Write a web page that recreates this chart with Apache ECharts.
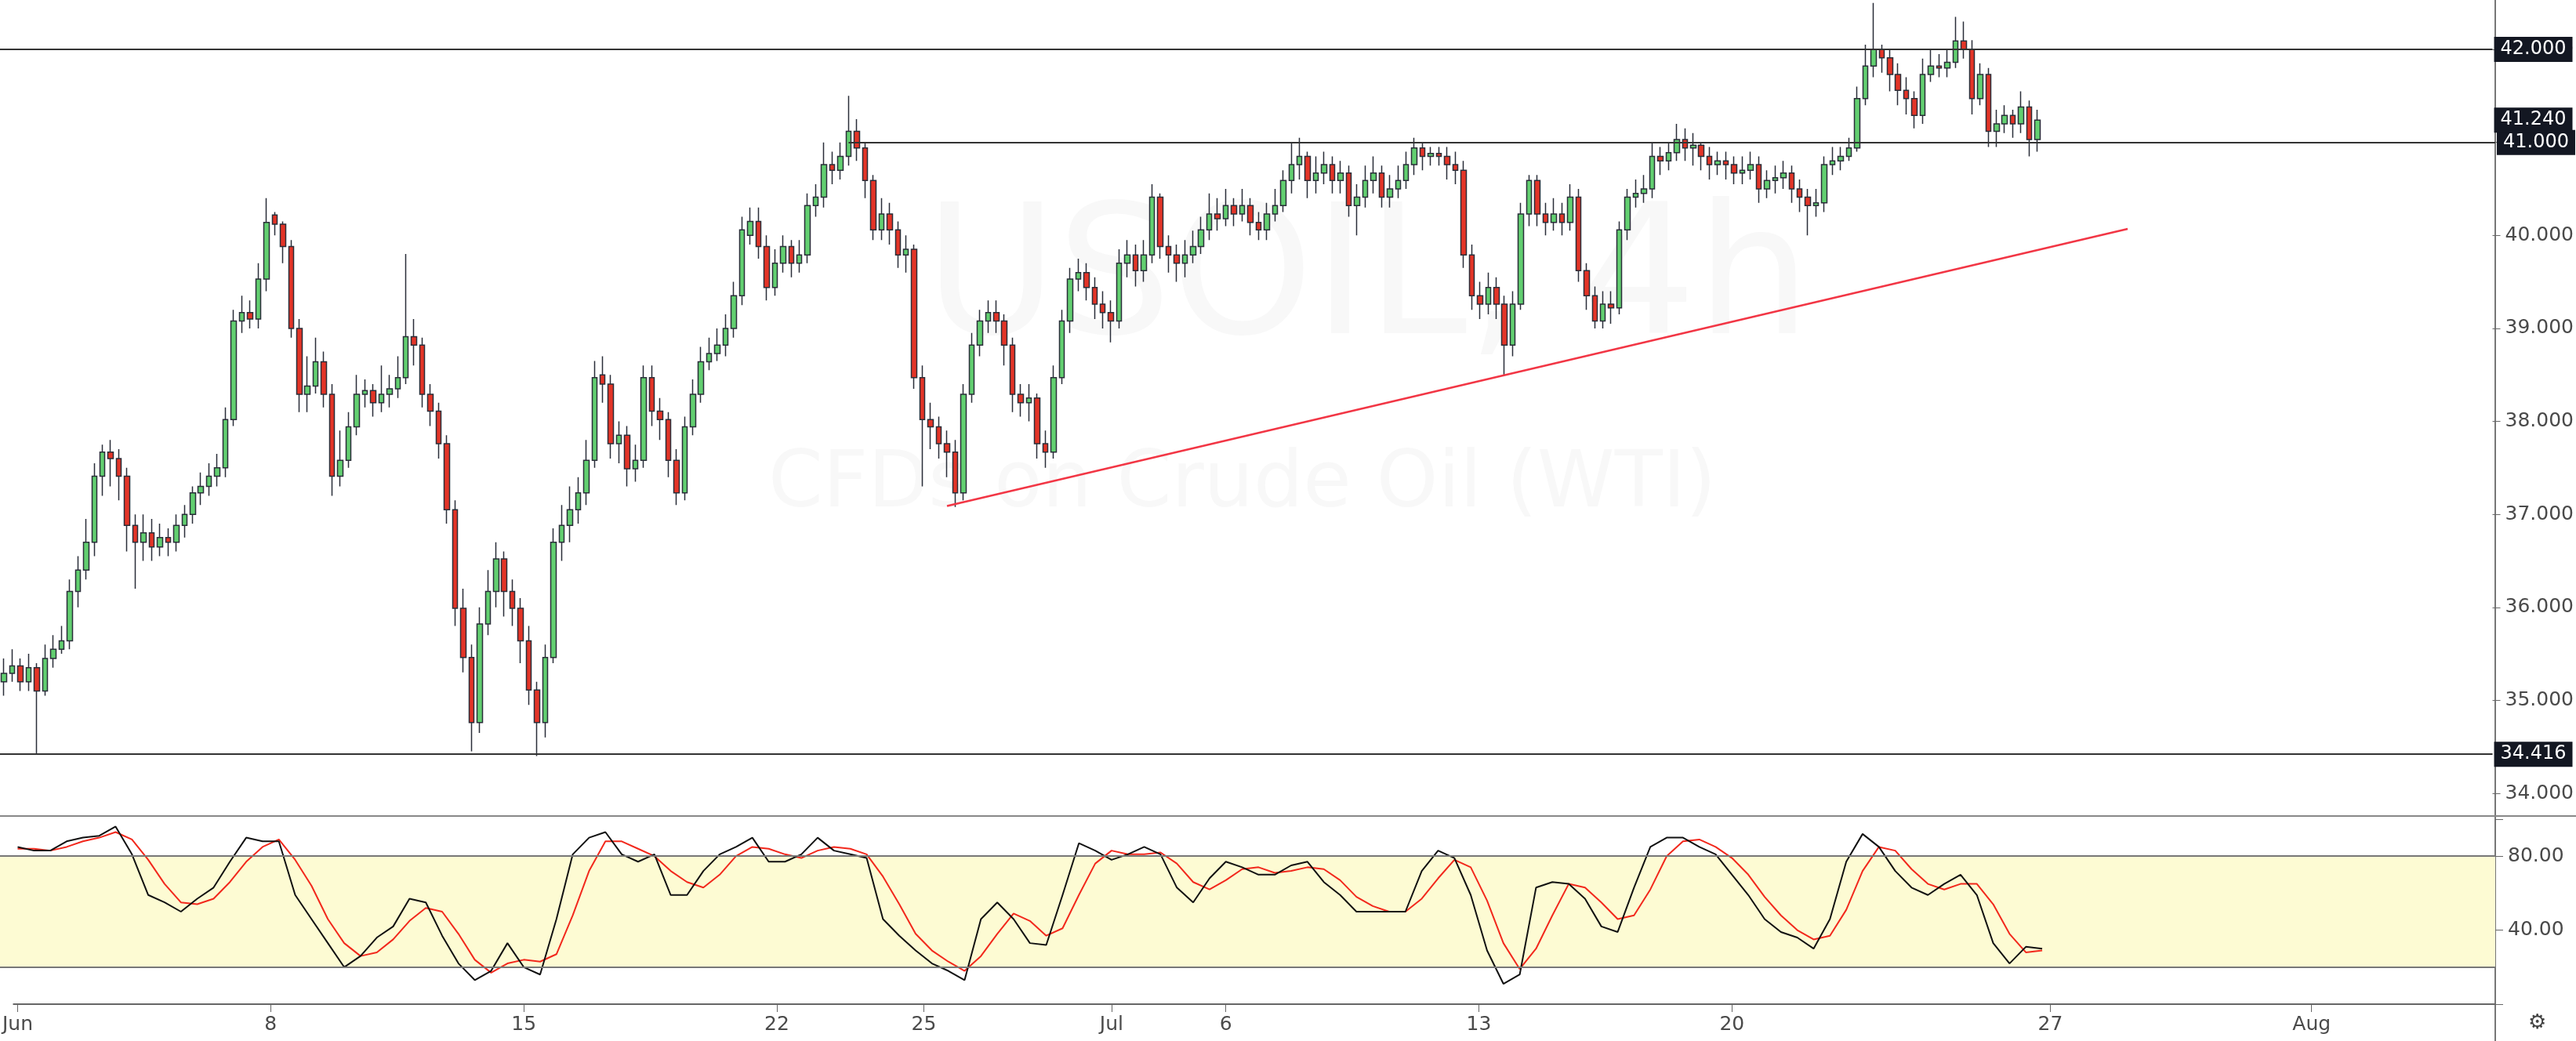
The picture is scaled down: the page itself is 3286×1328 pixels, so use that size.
<!DOCTYPE html>
<html><head><meta charset="utf-8">
<script src="https://cdn.jsdelivr.net/npm/echarts@6/dist/echarts.min.js"></script>
<style>html,body{margin:0;padding:0;background:#fff}#c{width:3286px;height:1328px}</style>
</head><body><div id="c"></div>
<script>
// [open, close, low, high]
const candles = [
[35.20,35.29,35.05,35.45],[35.29,35.37,35.20,35.55],[35.37,35.20,35.10,35.45],[35.20,35.35,35.10,35.50],[35.35,35.10,34.42,35.40],
[35.10,35.45,35.05,35.60],[35.45,35.55,35.35,35.70],[35.55,35.64,35.50,35.80],[35.64,36.17,35.55,36.30],[36.17,36.40,36.00,36.55],
[36.40,36.70,36.30,36.95],[36.70,37.41,36.55,37.55],[37.41,37.67,37.20,37.75],[37.67,37.60,37.30,37.80],[37.60,37.41,37.15,37.70],
[37.41,36.88,36.60,37.50],[36.88,36.70,36.20,37.00],[36.70,36.80,36.50,37.00],[36.80,36.65,36.50,36.95],[36.65,36.75,36.55,36.90],
[36.75,36.70,36.55,36.85],[36.70,36.88,36.60,37.00],[36.88,37.00,36.75,37.10],[37.00,37.23,36.90,37.30],[37.23,37.30,37.10,37.45],
[37.30,37.41,37.20,37.55],[37.41,37.50,37.30,37.65],[37.50,38.02,37.40,38.15],[38.02,39.08,37.95,39.20],[39.08,39.17,38.95,39.35],
[39.17,39.10,39.00,39.30],[39.10,39.53,39.00,39.70],[39.53,40.14,39.40,40.40],[40.22,40.12,40.00,40.25],[40.12,39.88,39.70,40.15],
[39.88,39.00,38.90,39.95],[39.00,38.29,38.10,39.10],[38.29,38.38,38.10,38.70],[38.38,38.64,38.30,38.90],[38.64,38.29,38.15,38.75],
[38.29,37.41,37.20,38.40],[37.41,37.58,37.30,37.90],[37.58,37.94,37.50,38.10],[37.94,38.29,37.85,38.50],[38.29,38.33,38.15,38.45],
[38.33,38.20,38.05,38.40],[38.20,38.29,38.10,38.60],[38.29,38.35,38.15,38.50],[38.35,38.47,38.25,38.70],[38.47,38.91,38.40,39.80],
[38.91,38.82,38.60,39.10],[38.82,38.29,38.15,38.90],[38.29,38.11,37.95,38.40],[38.11,37.76,37.60,38.20],[37.76,37.05,36.90,37.85],
[37.05,35.99,35.80,37.15],[35.99,35.46,35.30,36.20],[35.46,34.76,34.45,35.60],[34.76,35.82,34.65,36.00],[35.82,36.17,35.70,36.40],
[36.17,36.52,36.00,36.70],[36.52,36.17,35.90,36.60],[36.17,35.99,35.80,36.30],[35.99,35.64,35.40,36.10],[35.64,35.11,34.95,35.80],
[35.11,34.76,34.40,35.20],[34.76,35.46,34.60,35.60],[35.46,36.70,35.40,36.85],[36.70,36.88,36.50,37.10],[36.88,37.05,36.70,37.30],
[37.05,37.23,36.90,37.40],[37.23,37.58,37.10,37.80],[37.58,38.47,37.50,38.65],[38.50,38.40,38.20,38.70],[38.40,37.76,37.60,38.50],
[37.76,37.85,37.55,38.00],[37.85,37.49,37.30,37.95],[37.49,37.58,37.35,37.75],[37.58,38.47,37.50,38.60],[38.47,38.11,37.95,38.60],
[38.11,38.02,37.80,38.25],[38.02,37.58,37.40,38.10],[37.58,37.23,37.10,37.70],[37.23,37.94,37.15,38.05],[37.94,38.29,37.85,38.45],
[38.29,38.64,38.20,38.80],[38.64,38.73,38.55,38.90],[38.73,38.82,38.65,39.00],[38.82,39.00,38.70,39.15],[39.00,39.35,38.90,39.50],
[39.35,40.06,39.25,40.20],[40.00,40.15,39.90,40.30],[40.15,39.88,39.75,40.30],[39.88,39.44,39.30,40.00],[39.44,39.70,39.35,39.85],
[39.70,39.88,39.60,40.00],[39.88,39.70,39.55,39.95],[39.70,39.79,39.60,39.95],[39.79,40.32,39.70,40.45],[40.32,40.41,40.20,40.55],
[40.41,40.76,40.30,41.00],[40.76,40.70,40.55,40.90],[40.70,40.85,40.60,41.00],[40.85,41.12,40.75,41.50],[41.12,40.94,40.80,41.25],
[40.94,40.59,40.40,41.00],[40.59,40.06,39.95,40.65],[40.06,40.23,39.95,40.40],[40.23,40.06,39.90,40.35],[40.06,39.79,39.65,40.15],
[39.79,39.85,39.60,40.00],[39.85,38.47,38.35,39.90],[38.47,38.02,37.30,38.60],[38.02,37.94,37.70,38.20],[37.94,37.76,37.60,38.05],
[37.76,37.67,37.40,37.90],[37.67,37.23,37.08,37.80],[37.23,38.29,37.15,38.40],[38.29,38.82,38.20,38.95],[38.82,39.08,38.70,39.20],
[39.08,39.17,38.95,39.30],[39.17,39.08,38.95,39.30],[39.08,38.82,38.60,39.15],[38.82,38.29,38.10,38.90],[38.29,38.20,38.05,38.40],
[38.20,38.25,38.00,38.40],[38.25,37.76,37.60,38.30],[37.76,37.67,37.50,37.90],[37.67,38.47,37.60,38.60],[38.47,39.08,38.40,39.20],
[39.08,39.53,38.95,39.65],[39.53,39.60,39.40,39.75],[39.60,39.44,39.30,39.70],[39.44,39.26,39.10,39.55],[39.26,39.17,39.00,39.40],
[39.17,39.08,38.85,39.30],[39.08,39.70,39.00,39.85],[39.70,39.79,39.55,39.95],[39.79,39.62,39.45,39.90],[39.62,39.79,39.50,39.95],
[39.79,40.41,39.70,40.55],[40.41,39.88,39.75,40.45],[39.88,39.79,39.60,40.00],[39.79,39.70,39.50,39.90],[39.70,39.79,39.55,39.95],
[39.79,39.88,39.70,40.05],[39.88,40.06,39.80,40.20],[40.06,40.23,39.95,40.45],[40.23,40.18,40.05,40.40],[40.18,40.32,40.10,40.50],
[40.32,40.23,40.10,40.40],[40.23,40.32,40.15,40.50],[40.32,40.14,40.00,40.40],[40.14,40.06,39.95,40.25],[40.06,40.23,39.95,40.35],
[40.23,40.32,40.15,40.50],[40.32,40.59,40.25,40.70],[40.59,40.76,40.45,41.00],[40.76,40.85,40.60,41.05],[40.85,40.59,40.40,40.90],
[40.59,40.67,40.45,40.85],[40.67,40.76,40.55,40.90],[40.76,40.59,40.45,40.85],[40.59,40.67,40.45,40.80],[40.67,40.32,40.20,40.75],
[40.32,40.41,40.00,40.55],[40.41,40.59,40.30,40.75],[40.59,40.67,40.45,40.85],[40.67,40.41,40.30,40.75],[40.41,40.50,40.30,40.65],
[40.50,40.59,40.40,40.75],[40.59,40.76,40.50,40.90],[40.76,40.94,40.65,41.05],[40.94,40.85,40.70,41.00],[40.85,40.88,40.75,40.95],
[40.88,40.85,40.75,40.95],[40.85,40.76,40.60,40.95],[40.76,40.70,40.55,40.90],[40.70,39.79,39.65,40.80],[39.79,39.35,39.20,39.90],
[39.35,39.26,39.10,39.50],[39.26,39.44,39.15,39.60],[39.44,39.26,39.10,39.55],[39.26,38.82,38.50,39.35],[38.82,39.26,38.70,39.40],
[39.26,40.23,39.20,40.35],[40.23,40.59,40.10,40.65],[40.59,40.23,40.10,40.65],[40.23,40.14,40.00,40.35],[40.14,40.23,40.05,40.40],
[40.23,40.14,40.00,40.35],[40.14,40.41,40.05,40.55],[40.41,39.62,39.50,40.50],[39.62,39.35,39.20,39.70],[39.35,39.08,39.00,39.45],
[39.08,39.26,39.00,39.40],[39.26,39.22,39.05,39.40],[39.22,40.06,39.15,40.15],[40.06,40.41,39.95,40.50],[40.41,40.45,40.30,40.60],
[40.45,40.50,40.35,40.65],[40.50,40.85,40.40,41.00],[40.85,40.80,40.65,40.95],[40.80,40.89,40.70,41.00],[40.89,41.03,40.80,41.20],
[41.03,40.94,40.80,41.15],[40.94,40.97,40.75,41.10],[40.97,40.85,40.70,41.00],[40.85,40.76,40.60,40.95],[40.76,40.80,40.65,40.90],
[40.80,40.76,40.60,40.90],[40.76,40.67,40.55,40.85],[40.67,40.70,40.55,40.85],[40.70,40.76,40.60,40.90],[40.76,40.50,40.35,40.85],
[40.50,40.59,40.40,40.70],[40.59,40.62,40.45,40.75],[40.62,40.67,40.50,40.80],[40.67,40.50,40.35,40.75],[40.50,40.41,40.25,40.60],
[40.41,40.32,40.00,40.50],[40.32,40.35,40.20,40.50],[40.35,40.76,40.25,40.85],[40.76,40.80,40.65,40.95],[40.80,40.85,40.70,40.95],
[40.85,40.94,40.80,41.05],[40.94,41.47,40.90,41.60],[41.47,41.82,41.40,42.05],[41.82,42.00,41.70,42.50],[42.00,41.91,41.75,42.05],
[41.91,41.73,41.55,42.00],[41.73,41.56,41.40,41.85],[41.56,41.47,41.30,41.70],[41.47,41.29,41.15,41.55],[41.29,41.73,41.20,41.90],
[41.73,41.82,41.65,42.00],[41.82,41.80,41.70,41.95],[41.80,41.86,41.70,42.00],[41.86,42.09,41.80,42.35],[42.09,42.00,41.90,42.30],
[42.00,41.47,41.30,42.10],[41.47,41.73,41.40,41.85],[41.73,41.12,40.95,41.80],[41.12,41.20,40.95,41.35],[41.20,41.29,41.10,41.40],
[41.29,41.20,41.05,41.35],[41.20,41.38,41.10,41.55],[41.38,41.03,40.85,41.45],[41.03,41.24,40.90,41.35]
];
// stochastic, one value per two candles
const stochK = [85,83,83,88,90,91,96,81,59,55,50,57,63,77,90,88,88,59,46,33,20,26,36,42,57,55,37,22,13,18,33,20,16,46,81,90,93,81,77,81,59,59,72,81,85,90,77,77,81,90,83,81,79,46,37,29,22,18,13,46,55,46,33,32,59,87,83,78,81,85,81,63,55,68,77,74,70,70,75,77,66,59,50,50,50,50,72,83,79,59,29,11,16,63,66,65,57,42,39,63,85,90,90,85,81,70,59,46,39,36,30,46,77,92,85,72,63,59,65,70,59,33,22,31,30];
const stochD = [84,84,83,85,88,90,93,89,78,65,55,54,57,66,77,85,89,78,64,46,33,26,28,35,45,52,50,38,24,17,22,24,23,27,48,72,88,88,84,80,72,66,63,70,80,85,84,81,79,83,85,84,81,69,54,38,29,23,18,26,38,49,45,37,41,59,76,83,81,81,82,76,66,62,67,73,74,71,72,74,73,67,58,53,50,50,57,68,78,74,56,33,19,30,48,65,63,55,46,48,62,80,88,89,85,79,70,58,48,40,35,37,51,72,85,83,73,65,62,65,65,54,38,28,29];
const tickIdx = [0,31,62,93,111,134,148,179,210,249,281];
const tickLabels = ['Jun','8','15','22','25','Jul','6','13','20','27','Aug'];
const levels = [42.0, 34.416];
const level41 = {value: 41.0, fromIdx: 103};
const lastPrice = 41.24;
const trendLine = [[115, 37.09], [259, 40.07]];
const stochBand = [20, 80];
const NSLOT = 304;

const cats = Array.from({length: NSLOT}, (_, i) => String(i));
const kData = new Array(NSLOT).fill(null), dData = new Array(NSLOT).fill(null);
stochK.forEach((v, i) => { kData[2 * i] = v; });
stochD.forEach((v, i) => { dData[2 * i] = v; });
const labelMap = {}; tickIdx.forEach((t, i) => labelMap[t] = tickLabels[i]);

const lab = (v) => ({show: true, position: 'end', distance: 2, backgroundColor: '#131722', color: '#fff',
  padding: [4, 8], fontSize: 24, fontFamily: 'DejaVu Sans', formatter: () => v.toFixed(3)});
const PLOT_R = 3183;

const chart = echarts.init(document.getElementById('c'));
chart.setOption({
  animation: false,
  backgroundColor: '#fff',
  graphic: [
    {type: 'text', left: 1180, top: 250, z: -1, style: {text: 'USOIL, 4h', fontSize: 230, fontFamily: 'DejaVu Sans', fill: '#f8f8f8'}},
    {type: 'text', left: 980, top: 570, z: -1, style: {text: 'CFDs on Crude Oil (WTI)', fontSize: 100, fontFamily: 'DejaVu Sans', fill: '#f8f8f8'}},
    {type: 'line', shape: {x1: PLOT_R, y1: 0, x2: PLOT_R, y2: 1328}, style: {stroke: '#777', lineWidth: 2}},
    {type: 'line', shape: {x1: 0, y1: 1041, x2: 3286, y2: 1041}, style: {stroke: '#888', lineWidth: 2}},
    {type: 'text', left: 3225, top: 1292, style: {text: '⚙', fontSize: 26, fill: '#444'}}
  ],
  grid: [
    {left: 0, right: 103, top: 63, height: 949},
    {left: 0, right: 103, top: 1045, height: 236}
  ],
  xAxis: [
    {type: 'category', gridIndex: 0, data: cats, boundaryGap: true, axisLine: {show: false}, axisTick: {show: false}, axisLabel: {show: false}},
    {type: 'category', gridIndex: 1, data: cats, boundaryGap: true,
     axisLine: {show: true, lineStyle: {color: '#666', width: 2}},
     axisTick: {show: true, length: 10, alignWithLabel: true, interval: (i) => labelMap[i] !== undefined, lineStyle: {color: '#666'}},
     axisLabel: {interval: 0, formatter: (v, i) => labelMap[i] || '', color: '#4a4a4a', fontSize: 25, fontFamily: 'DejaVu Sans', margin: 14}}
  ],
  yAxis: [
    {type: 'value', gridIndex: 0, position: 'right', min: 34, max: 42, interval: 1, splitLine: {show: false},
     axisLine: {show: false}, axisTick: {show: true, length: 10, lineStyle: {color: '#666'}},
     axisLabel: {formatter: v => v.toFixed(3), color: '#4a4a4a', fontSize: 25, fontFamily: 'DejaVu Sans', margin: 16}},
    {type: 'value', gridIndex: 1, position: 'right', min: 0, max: 100, interval: 40, splitLine: {show: false},
     axisLine: {show: false}, axisTick: {show: true, length: 10, lineStyle: {color: '#666'}},
     axisLabel: {formatter: v => ((v === 40 || v === 80) ? v.toFixed(2) : ''), color: '#4a4a4a', fontSize: 25, fontFamily: 'DejaVu Sans', margin: 16}}
  ],
  series: [
    {type: 'candlestick', xAxisIndex: 0, yAxisIndex: 0, data: candles.map(r => [r[0], r[1], r[2], r[3]]),
     clip: false, barWidth: 7,
     itemStyle: {color: '#62cf70', color0: '#e33427', borderColor: '#2a2e39', borderColor0: '#2a2e39', borderWidth: 1.5},
     markLine: {symbol: 'none', silent: true, animation: false,
       lineStyle: {color: '#333', width: 2, type: 'solid'},
       data: [
         ...levels.map(v => ({yAxis: v, label: lab(v)})),
         [{coord: [String(level41.fromIdx), level41.value], label: lab(level41.value)}, {x: PLOT_R, coord: [String(NSLOT - 1), level41.value]}],
         {yAxis: lastPrice, lineStyle: {color: 'rgba(0,0,0,0)', width: 0}, label: lab(lastPrice)},
         [{coord: [String(trendLine[0][0]), trendLine[0][1]], lineStyle: {color: '#f23645', width: 2.5}, label: {show: false}},
          {coord: [String(trendLine[1][0]), trendLine[1][1]]}]
       ]}
    },
    {type: 'line', xAxisIndex: 1, yAxisIndex: 1, data: kData, connectNulls: true, showSymbol: false,
     lineStyle: {color: '#111', width: 2}, z: 3,
     markArea: {silent: true, itemStyle: {color: '#fdfbd3'}, data: [[{x: 0, yAxis: stochBand[1]}, {x: PLOT_R, yAxis: stochBand[0]}]]},
     markLine: {symbol: 'none', silent: true, label: {show: false}, lineStyle: {color: '#777', width: 2, type: 'solid'},
       data: stochBand.map(v => [{x: 0, yAxis: v}, {x: PLOT_R, yAxis: v}])}},
    {type: 'line', xAxisIndex: 1, yAxisIndex: 1, data: dData, connectNulls: true, showSymbol: false,
     lineStyle: {color: '#f2281c', width: 2}, z: 2}
  ]
});
</script></body></html>
